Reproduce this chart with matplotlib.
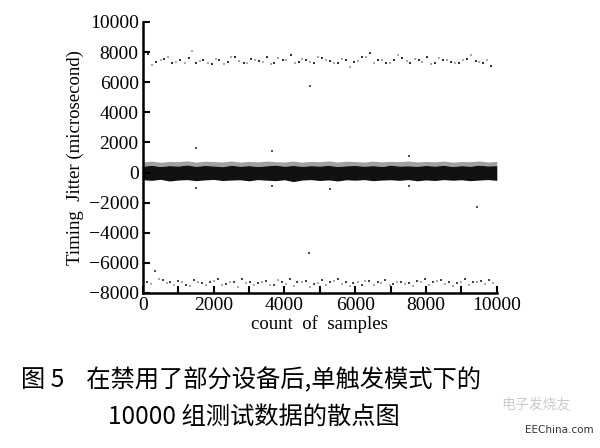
import matplotlib
matplotlib.use("Agg")
import matplotlib.pyplot as plt
from matplotlib.ticker import MultipleLocator

# ---------------- data ----------------
x_ticks = [0, 2000, 4000, 6000, 8000, 10000]
y_ticks = [-8000, -6000, -4000, -2000, 0, 2000, 4000, 6000, 8000, 10000]

# upper sparse cluster (about +7000 .. +8000)
upper_dark_x = [150, 380, 610, 820, 1060, 1300, 1500, 1700, 1950, 2150, 2400, 2600,
                2850, 3050, 3280, 3500, 3700, 3950, 4180, 4400, 4620, 4850, 5050,
                5300, 5520, 5750, 5960, 6200, 6420, 6650, 6880, 7100, 7330, 7560,
                7800, 8020, 8250, 8480, 8700, 8940, 9170, 9400, 9620, 9850]
upper_dark_y = [7900, 7350, 7550, 7250, 7450, 7600, 7300, 7500, 7200, 7450, 7350, 7700,
                7300, 7550, 7400, 7650, 7250, 7500, 7800, 7350, 7450, 7300, 7600,
                7400, 7250, 7500, 7350, 7700, 7950, 7450, 7300, 7500, 7600, 7250,
                7450, 7650, 7300, 7500, 7350, 7250, 7550, 7400, 7300, 7100]
upper_light_x = [260, 520, 700, 950, 1180, 1380, 1620, 1830, 2060, 2280, 2480, 2720,
                 2950, 3170, 3400, 3620, 3820, 4050, 4300, 4500, 4720, 4960, 5180,
                 5400, 5630, 5850, 6080, 6300, 6530, 6760, 6980, 7220, 7450, 7680,
                 7900, 8130, 8360, 8600, 8820, 9050, 9280, 9500, 9730]
upper_light_y = [7150, 7450, 7700, 7350, 7250, 8050, 7400, 7300, 7550, 7200, 7650, 7400,
                 7300, 7500, 7350, 7200, 7600, 7450, 7250, 7550, 7350, 7700, 7450,
                 7300, 7550, 7000, 7400, 7650, 7300, 7500, 7250, 7800, 7400, 7550,
                 7350, 7200, 7600, 7450, 7300, 7500, 7800, 7350, 7500]

# lower sparse cluster (about -7000 .. -7700)
lower_dark_x = [120, 340, 560, 780, 1000, 1230, 1450, 1680, 1900, 2120, 2350, 2570,
                2800, 3020, 3250, 3470, 3700, 3920, 4150, 4370, 4600, 4830, 5050,
                5280, 5500, 5730, 5950, 6180, 6400, 6630, 6850, 7080, 7300, 7530,
                7750, 7980, 8200, 8430, 8650, 8880, 9100, 9330, 9550, 9780]
lower_dark_y = [-7250, -6550, -7150, -7300, -7200, -7450, -7150, -7350, -7250, -7100,
                -7400, -7250, -7050, -7300, -7350, -7200, -7450, -7250, -7100, -7300,
                -7200, -7400, -7150, -7300, -7100, -7250, -7350, -7450, -7200, -7300,
                -7150, -7400, -7250, -7350, -7200, -7050, -7300, -7150, -7250, -7350,
                -7100, -7300, -7200, -7150]
lower_light_x = [230, 450, 670, 890, 1110, 1340, 1560, 1790, 2010, 2240, 2460, 2690,
                 2910, 3140, 3360, 3590, 3810, 4040, 4260, 4490, 4710, 4940, 5170,
                 5390, 5620, 5840, 6070, 6290, 6520, 6740, 6970, 7190, 7420, 7640,
                 7870, 8090, 8320, 8540, 8770, 8990, 9220, 9440, 9670, 9890]
lower_light_y = [-7400, -7100, -7350, -7500, -7250, -7550, -7300, -7450, -7200, -7500,
                 -7300, -7600, -7350, -7450, -7250, -7500, -7150, -7400, -7550, -7250,
                 -7600, -7350, -7450, -7200, -7400, -7550, -7300, -7200, -7450, -7350,
                 -7500, -7250, -7400, -7550, -7300, -7450, -7200, -7400, -7550, -7300,
                 -7450, -7250, -7400, -7350]

# isolated outliers
outlier_x = [4720, 4690, 340, 1500, 3640, 1500, 3640, 5280, 7510, 7510, 9430]
outlier_y = [5740, -5350, -6540, 1630, 1430, -1030, -900, -1100, 1100, -900, -2300]

# dense band around zero (envelope)
band_x = [0, 250, 500, 750, 1000, 1250, 1500, 1750, 2000, 2250, 2500, 2750, 3000,
          3250, 3500, 3750, 4000, 4250, 4500, 4750, 5000, 5250, 5500, 5750, 6000,
          6250, 6500, 6750, 7000, 7250, 7500, 7750, 8000, 8250, 8500, 8750, 9000,
          9250, 9500, 9750, 10000]
band_top = [420, 480, 400, 460, 430, 500, 410, 470, 440, 390, 480, 420, 460,
            400, 450, 490, 420, 470, 410, 460, 430, 480, 400, 450, 470,
            420, 460, 400, 490, 430, 450, 410, 470, 430, 480, 400, 460,
            420, 490, 440, 460]
band_speckle = [700, 760, 680, 740, 720, 780, 690, 750, 730, 700, 770, 690, 740,
                710, 760, 720, 700, 760, 690, 740, 720, 770, 700, 750, 730,
                690, 760, 710, 740, 720, 770, 700, 740, 710, 760, 690, 730,
                720, 770, 700, 740]
band_bot = [-480, -520, -450, -560, -500, -470, -540, -490, -460, -530, -500, -480,
            -550, -470, -510, -540, -480, -600, -500, -470, -530, -490, -560, -480,
            -510, -470, -540, -500, -480, -520, -470, -550, -490, -530, -470, -510,
            -480, -540, -500, -470, -520]

# ---------------- figure ----------------
plt.rcParams['font.family'] = ['Liberation Serif', 'DejaVu Serif']
fig = plt.figure(figsize=(6.0, 4.48), dpi=100)
ax = fig.add_axes([0.238, 0.346, 0.590, 0.605])

ax.fill_between(band_x, band_top, band_speckle, color='#555555', linewidth=0, alpha=0.55)
ax.fill_between(band_x, band_bot, band_top, color='#111111', linewidth=0)

ax.scatter(upper_dark_x, upper_dark_y, s=4, marker='s', color='#333333', linewidths=0)
ax.scatter(upper_light_x, upper_light_y, s=4, marker='s', color='#aaaaaa', linewidths=0)
ax.scatter(lower_dark_x, lower_dark_y, s=3, marker='s', color='#444444', linewidths=0)
ax.scatter(lower_light_x, lower_light_y, s=3, marker='s', color='#aaaaaa', linewidths=0)
ax.scatter(outlier_x, outlier_y, s=3, marker='s', color='#555555', linewidths=0)

ax.set_xlim(0, 10000)
ax.set_ylim(-8000, 10000)
ax.set_xticks(x_ticks)
ax.set_yticks(y_ticks)
ax.xaxis.set_minor_locator(MultipleLocator(1000))
ax.tick_params(axis='both', which='major', direction='in', length=5, width=1.5,
               labelsize=14, pad=3, top=False, right=False)
ax.tick_params(axis='x', which='minor', direction='in', length=5, width=1.5, top=False)
for s in ['top', 'right']:
    ax.spines[s].set_visible(False)
for s in ['left', 'bottom']:
    ax.spines[s].set_linewidth(1.8)

ax.set_ylabel('Timing  Jitter (microsecond)', fontsize=13.5, labelpad=3)
ax.set_xlabel('count  of  samples', fontsize=13.5, labelpad=1)

cjk = ['Noto Sans CJK SC', 'DejaVu Sans']
fig.text(0.035, 0.152, '图 5    在禁用了部分设备后,单触发模式下的', family=cjk,
         fontsize=17.5, ha='left', va='center')
fig.text(0.18, 0.07, '10000 组测试数据的散点图', family=cjk,
         fontsize=17.5, ha='left', va='center')
fig.text(0.835, 0.098, '电子发烧友', family=cjk, fontsize=10, color='#cccccc',
         ha='left', va='center')
fig.text(0.875, 0.04, 'EEChina.com', family=['DejaVu Sans'], fontsize=7.5,
         color='#333333', ha='left', va='center')

fig.savefig('out.png', dpi=100)
